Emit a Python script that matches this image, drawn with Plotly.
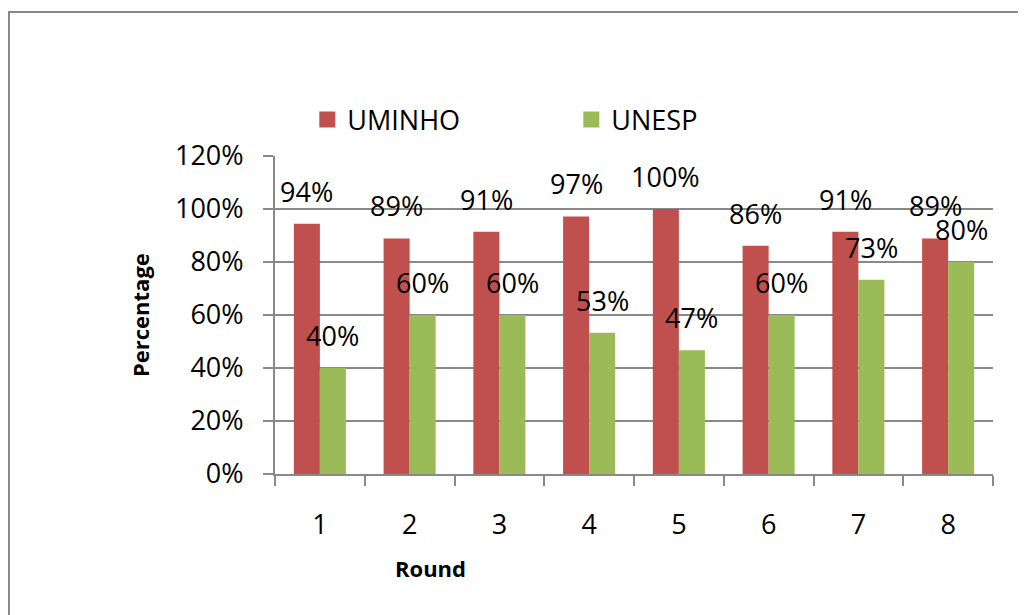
import plotly.graph_objects as go

ROUNDS = ["1", "2", "3", "4", "5", "6", "7", "8"]
UMINHO = [0.944, 0.889, 0.914, 0.972, 1.000, 0.861, 0.914, 0.889]
UNESP = [0.400, 0.600, 0.600, 0.533, 0.467, 0.600, 0.733, 0.800]

RED = "#C0504D"
GREEN = "#9BBB59"
GRID = "#898989"
FONT = "Open Sans"

fig = go.Figure()
fig.add_trace(go.Bar(x=ROUNDS, y=UMINHO, name="UMINHO", marker_color=RED,
                     marker_line_width=0, showlegend=False))
fig.add_trace(go.Bar(x=ROUNDS, y=UNESP, name="UNESP", marker_color=GREEN,
                     marker_line_width=0, showlegend=False))

# legend entries with bigger squares
for name, col in [("UMINHO", RED), ("UNESP", GREEN)]:
    fig.add_trace(go.Scatter(x=ROUNDS[:1], y=[None], name=name, mode="markers",
                             marker=dict(symbol="square", size=18, color=col)))

# data labels above each bar (x by category index)
annotations = []
for vals, shift in [(UMINHO, -13), (UNESP, 13)]:
    for i, v in enumerate(vals):
        annotations.append(dict(
            x=i, y=v, text=f"{v:.0%}", showarrow=False, xshift=shift,
            yanchor="bottom", yshift=12,
            font=dict(family=FONT, size=27, color="#000000"),
        ))

annotations.append(dict(
    x=-0.188, y=0.5, xref="paper", yref="paper", text="<b>Percentage</b>",
    xanchor="center", yanchor="middle",
    textangle=-90, showarrow=False, font=dict(family=FONT, size=22, color="#000000"),
))
annotations.append(dict(
    x=0.217, y=-0.296, xref="paper", yref="paper", text="<b>Round</b>",
    xanchor="center", yanchor="middle",
    showarrow=False, font=dict(family=FONT, size=22, color="#000000"),
))

fig.update_layout(
    width=1018, height=607,
    plot_bgcolor="#ffffff", paper_bgcolor="#ffffff",
    font=dict(family=FONT, size=27, color="#000000"),
    margin=dict(l=267, r=33, t=148, b=141),
    barmode="group", bargap=0.42, bargroupgap=0,
    xaxis=dict(type="category", range=[-0.5, 7.5], showline=True, linecolor=GRID,
               linewidth=2, ticks="outside", ticklen=10, tickcolor=GRID, tickwidth=2,
               tickson="boundaries", ticklabelstandoff=26, showgrid=False),
    yaxis=dict(range=[0, 1.2], dtick=0.2, tickformat=".0%", showline=True,
               linecolor=GRID, linewidth=2, ticks="outside", ticklen=10,
               tickcolor=GRID, tickwidth=2, gridcolor=GRID, gridwidth=2,
               ticklabelstandoff=14, zeroline=False),
    legend=dict(orientation="h", x=0.045, y=1.113, xanchor="left", yanchor="middle",
                entrywidth=219, entrywidthmode="pixels",
                font=dict(family=FONT, size=27), bgcolor="rgba(0,0,0,0)"),
    annotations=annotations,
    shapes=[dict(type="rect", xref="paper", yref="paper",
                 x0=-0.3705, x1=1.1, y0=-0.6, y1=1.453,
                 line=dict(color=GRID, width=2))],
)

fig.write_html("out.html")
